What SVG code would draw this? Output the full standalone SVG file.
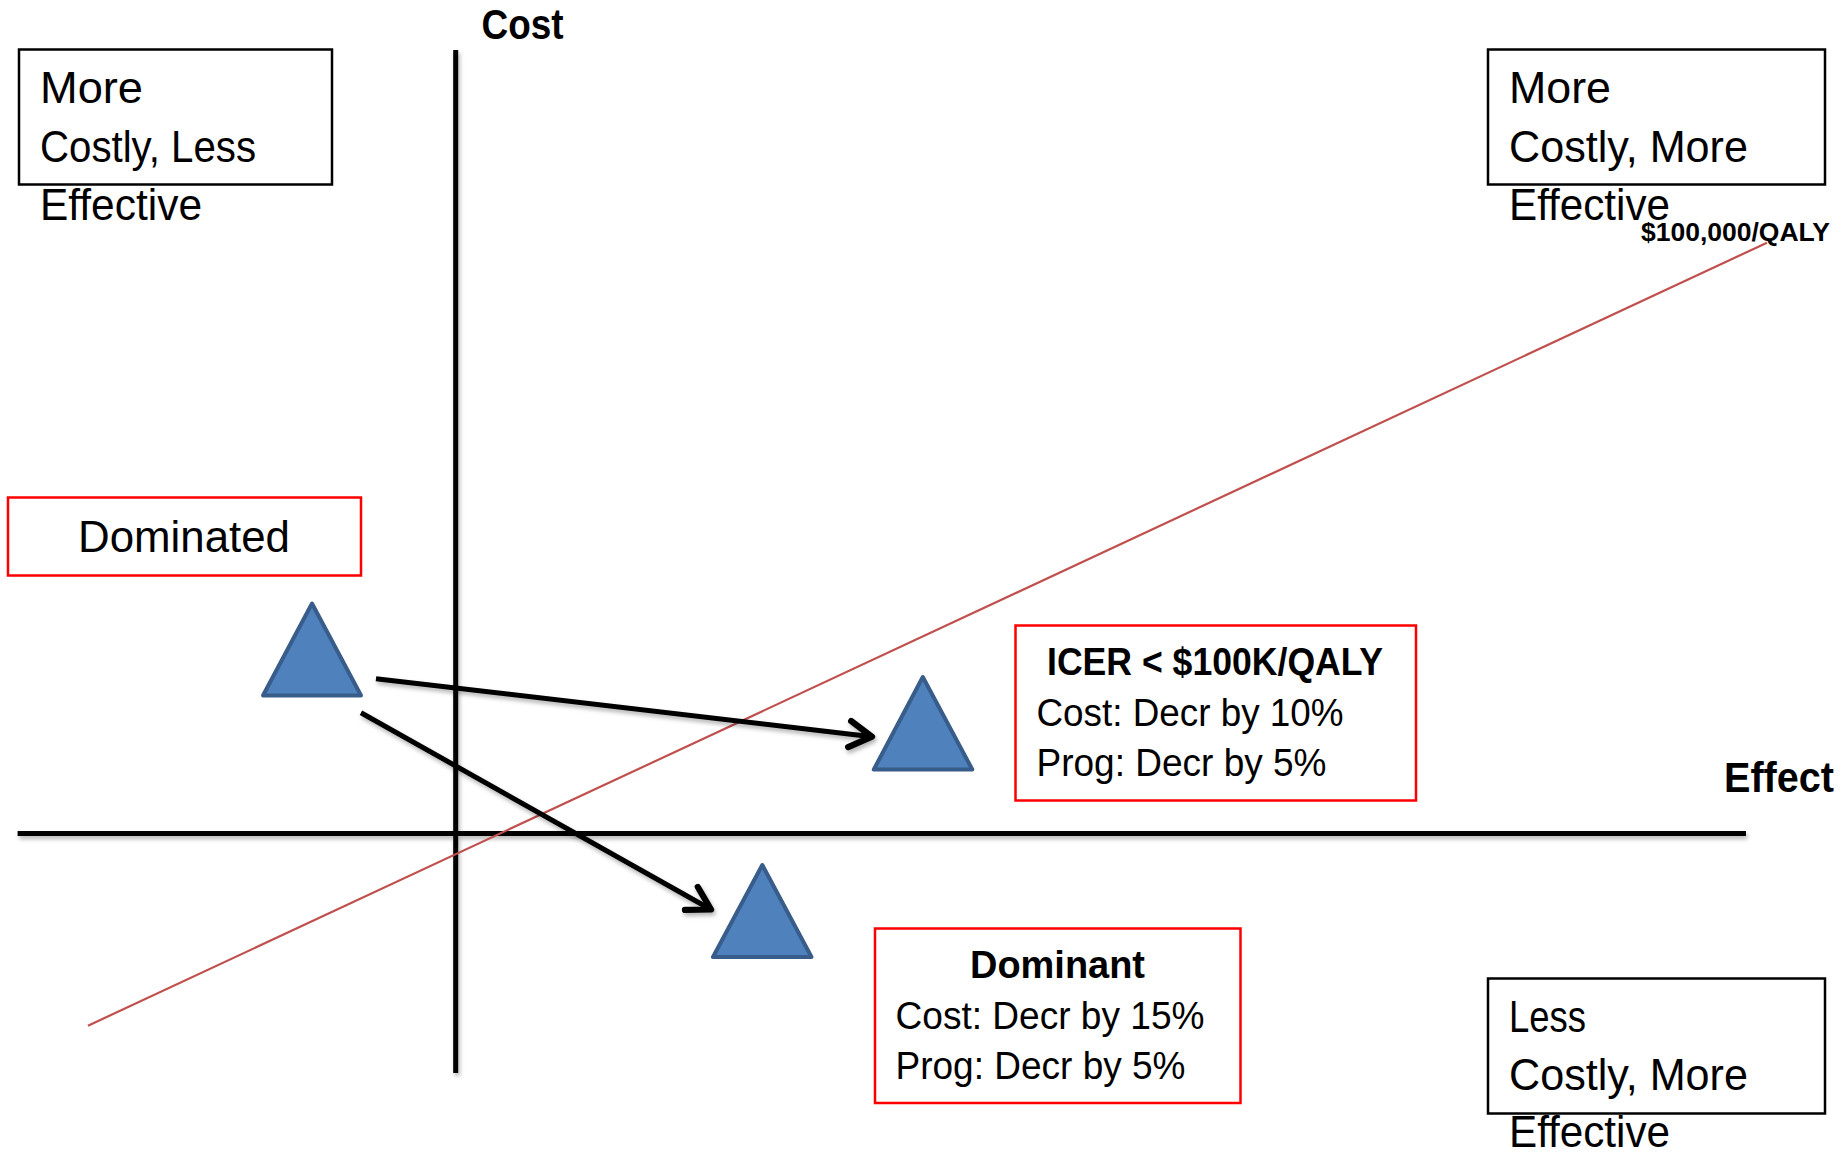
<svg xmlns="http://www.w3.org/2000/svg" width="1841" height="1154" viewBox="0 0 1841 1154">
<style>
  .t { font-family: "Liberation Sans", Arial, sans-serif; fill: #000; }
  .q { font-size: 44px; }
  .b { font-size: 39.5px; }
  .bold { font-weight: bold; }
  .boxK { fill: #fff; stroke: #000; stroke-width: 2.5; }
  .boxR { fill: #fff; stroke: #FF0000; stroke-width: 2.5; }
  .axis { stroke: #000; stroke-width: 5; fill: none; }
  .tri { fill: #4F81BD; stroke: #385D8A; stroke-width: 4; stroke-linejoin: round; }
  .arrow { stroke: #000; stroke-width: 5; fill: none; }
</style>
<defs>
  <filter id="sh" x="-10%" y="-10%" width="120%" height="130%">
    <feDropShadow dx="1.5" dy="3" stdDeviation="2" flood-color="#000" flood-opacity="0.3"/>
  </filter>
  <marker id="chev" markerUnits="userSpaceOnUse" markerWidth="40" markerHeight="40" viewBox="-24 -16 30 32" refX="0" refY="0" orient="auto" overflow="visible">
    <path d="M -18 -10.5 L 0 0 L -18 10.5" fill="none" stroke="#000" stroke-width="5" stroke-linecap="round" stroke-linejoin="round"/>
  </marker>
</defs>
<rect width="1841" height="1154" fill="#fff"/>

<g id="axes" filter="url(#sh)">
  <line class="axis" x1="455.7" y1="50" x2="455.7" y2="1073"/>
  <line class="axis" x1="17.6" y1="833.5" x2="1746" y2="833.5"/>
</g>
<g id="axis-labels">
  <text class="t bold" x="481.6" y="39" font-size="43" textLength="82" lengthAdjust="spacingAndGlyphs">Cost</text>
  <text class="t bold" x="1724" y="792" font-size="43" textLength="110" lengthAdjust="spacingAndGlyphs">Effect</text>
</g>

<g id="threshold">
  <line x1="88" y1="1025.7" x2="1767" y2="242.7" stroke="#C0504D" stroke-width="2.2"/>
  <text class="t bold" x="1641" y="240.5" font-size="25.5" textLength="189" lengthAdjust="spacingAndGlyphs">$100,000/QALY</text>
</g>

<g id="quad-top-left">
  <rect class="boxK" x="19" y="49.5" width="313" height="135"/>
  <text class="t q" x="40" y="103" textLength="103" lengthAdjust="spacingAndGlyphs">More</text>
  <text class="t q" x="40" y="161.5" textLength="216" lengthAdjust="spacingAndGlyphs">Costly, Less</text>
  <text class="t q" x="40" y="220" textLength="162" lengthAdjust="spacingAndGlyphs">Effective</text>
</g>

<g id="quad-top-right">
  <rect class="boxK" x="1488" y="49.5" width="337" height="135"/>
  <text class="t q" x="1509" y="103" textLength="102" lengthAdjust="spacingAndGlyphs">More</text>
  <text class="t q" x="1509" y="161.5" textLength="239" lengthAdjust="spacingAndGlyphs">Costly, More</text>
  <text class="t q" x="1509" y="220" textLength="161" lengthAdjust="spacingAndGlyphs">Effective</text>
</g>

<g id="quad-bottom-right">
  <rect class="boxK" x="1488" y="978.5" width="337" height="135"/>
  <text class="t q" x="1509" y="1031.5" textLength="77" lengthAdjust="spacingAndGlyphs">Less</text>
  <text class="t q" x="1509" y="1089.5" textLength="239" lengthAdjust="spacingAndGlyphs">Costly, More</text>
  <text class="t q" x="1509" y="1147" textLength="161" lengthAdjust="spacingAndGlyphs">Effective</text>
</g>

<g id="dominated">
  <rect class="boxR" x="8" y="497.5" width="353" height="78"/>
  <text class="t q" x="78" y="551.5" textLength="212" lengthAdjust="spacingAndGlyphs">Dominated</text>
</g>

<g id="icer">
  <rect class="boxR" x="1015.5" y="625.5" width="400.5" height="175"/>
  <text class="t b bold" x="1047" y="675" textLength="336" lengthAdjust="spacingAndGlyphs">ICER &lt; $100K/QALY</text>
  <text class="t b" x="1036.5" y="726" textLength="307" lengthAdjust="spacingAndGlyphs">Cost: Decr by 10%</text>
  <text class="t b" x="1036.5" y="776" textLength="290" lengthAdjust="spacingAndGlyphs">Prog: Decr by 5%</text>
</g>

<g id="dominant">
  <rect class="boxR" x="875" y="928.5" width="365.5" height="174.5"/>
  <text class="t b bold" x="970" y="978" textLength="175" lengthAdjust="spacingAndGlyphs">Dominant</text>
  <text class="t b" x="895.5" y="1029" textLength="309" lengthAdjust="spacingAndGlyphs">Cost: Decr by 15%</text>
  <text class="t b" x="895.5" y="1079" textLength="290" lengthAdjust="spacingAndGlyphs">Prog: Decr by 5%</text>
</g>

<g id="tri-start">
  <polygon class="tri" points="312,603.5 263,695.5 361,695.5"/>
</g>
<g id="tri-icer">
  <polygon class="tri" points="922.8,677 873.8,769.5 972.3,769.5"/>
</g>
<g id="tri-dominant">
  <polygon class="tri" points="762.3,865 713,957 811.5,957"/>
</g>

<g id="connectors" filter="url(#sh)">
  <line class="arrow" x1="376" y1="678.7" x2="872" y2="736.7" marker-end="url(#chev)"/>
  <line class="arrow" x1="361" y1="712.7" x2="711" y2="909.5" marker-end="url(#chev)"/>
</g>
</svg>
